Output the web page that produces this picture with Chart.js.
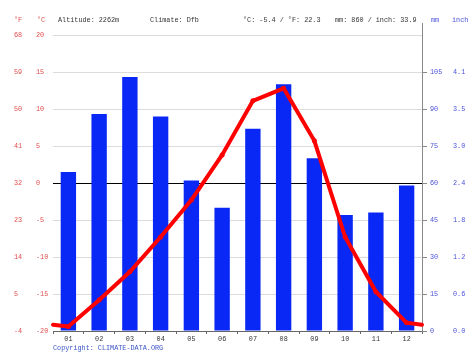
<!DOCTYPE html>
<html>
<head>
<meta charset="utf-8">
<style>
html,body{margin:0;padding:0;background:#fff;}
#wrap{width:474px;height:355px;position:relative;}
</style>
<script src="https://cdn.jsdelivr.net/npm/chart.js@4.4.0/dist/chart.umd.min.js"></script>
</head>
<body>
<div id="wrap"><canvas id="c" width="474" height="355"></canvas></div>
<script>
const months = ["01","02","03","04","05","06","07","08","09","10","11","12"];
const tempC = [-19.4,-15.8,-12.0,-7.3,-2.3,3.8,11.1,12.8,5.7,-7.3,-14.7,-18.9];
const precipMm = [64.5,88,103,87,61,50,82,100,70,47,48,59];
const cTickLabels = ["-20","-15","-10","-5","0","5","10","15","20"];
const fTickLabels = ["-4","5","14","23","32","41","50","59","68"];
const mmTickLabels = ["0","15","30","45","60","75","90","105"];
const inchTickLabels = ["0.0","0.6","1.2","1.8","2.4","3.0","3.5","4.1"];
const headerItems = [
  {t:"°F", x:14, c:"#e04a4a"},
  {t:"°C", x:37, c:"#e04a4a"},
  {t:"Altitude: 2262m", x:58, c:"#333"},
  {t:"Climate: Dfb", x:150, c:"#333"},
  {t:"°C: -5.4 / °F: 22.3", x:243, c:"#333"},
  {t:"mm: 860 / inch: 33.9", x:335, c:"#333"},
  {t:"mm", x:431, c:"#4a50d8"},
  {t:"inch", x:452, c:"#4a50d8"}
];
const FONT = "Liberation Mono";
const red = "#e04a4a", blue = "#4a50d8";

const extras = {
  id: "extras",
  afterDatasetsDraw(chart) {
    const ctx = chart.ctx, a = chart.chartArea;
    const ys = chart.scales.yC;
    const meta = chart.getDatasetMeta(1);
    const p0 = meta.data[0], pN = meta.data[meta.data.length-1];
    const edge = (tempC[0] + tempC[tempC.length-1]) / 2;
    const ye = ys.getPixelForValue(edge);
    ctx.save();
    ctx.strokeStyle = "#ff0000"; ctx.lineWidth = 4; ctx.lineCap = "round"; ctx.lineJoin="round";
    ctx.beginPath(); ctx.moveTo(a.left, ye); ctx.lineTo(p0.x, p0.y); ctx.stroke();
    ctx.beginPath(); ctx.moveTo(pN.x, pN.y); ctx.lineTo(a.right, ye); ctx.stroke();
    ctx.restore();
  },
  afterDraw(chart) {
    const ctx = chart.ctx, a = chart.chartArea;
    ctx.save();
    ctx.strokeStyle = "#888"; ctx.lineWidth = 1;
    ctx.beginPath(); ctx.moveTo(Math.round(a.right)+0.5, a.top-12); ctx.lineTo(Math.round(a.right)+0.5, a.top); ctx.stroke();
    ctx.font = "6.8px '" + FONT + "'";
    ctx.textBaseline = "middle"; ctx.textAlign = "left";
    headerItems.forEach(h => { ctx.fillStyle = h.c; ctx.fillText(h.t, h.x, 20); });
    ctx.fillStyle = "#3a55c8";
    ctx.fillText("Copyright: CLIMATE-DATA.ORG", 53, 348);
    ctx.restore();
  }
};

new Chart(document.getElementById("c"), {
  data: {
    labels: months,
    datasets: [
      {type:"bar", data: precipMm, yAxisID:"mm", backgroundColor:"#0a28f5", barPercentage:0.5, categoryPercentage:1.0, order:2},
      {type:"line", data: tempC, yAxisID:"yC", borderColor:"#ff0000", backgroundColor:"#ff0000", borderWidth:4, pointRadius:2.5, pointBorderWidth:0, tension:0, order:1}
    ]
  },
  options: {
    responsive:false, animation:false, devicePixelRatio:1,
    layout:{padding:{left:14, right:0, top:35, bottom:10}},
    plugins:{legend:{display:false}, tooltip:{enabled:false}, title:{display:false}},
    scales: {
      x: {
        type:"category", position:"bottom", offset:true,
        grid:{offset:true, drawOnChartArea:false, drawTicks:true, tickLength:3, color:"#666"},
        border:{display:true, color:"#666"},
        ticks:{font:{family:FONT, size:6.8}, color:"#333", padding:1, maxRotation:0, autoSkip:false},
        afterFit(s){ s.height = 14; }
      },
      yF: {
        type:"linear", position:"left", weight:2, min:-20, max:20,
        ticks:{stepSize:5, crossAlign:"far", padding:0, color:red, font:{family:FONT, size:6.8},
          callback:(v,i)=>fTickLabels[i]},
        grid:{display:false, drawTicks:false}, border:{display:false},
        afterFit(s){ s.width = 22; }
      },
      yC: {
        type:"linear", position:"left", weight:1, min:-20, max:20,
        ticks:{stepSize:5, crossAlign:"far", padding:0, color:red, font:{family:FONT, size:6.8},
          callback:(v,i)=>cTickLabels[i]},
        grid:{drawTicks:false, color:(c)=> c.tick && c.tick.value===0 ? "#000" : "#dcdcdc", lineWidth:1},
        border:{display:false},
        afterFit(s){ s.width = 17; }
      },
      mm: {
        type:"linear", position:"right", weight:1, min:0, max:120,
        ticks:{stepSize:15, padding:3, color:blue, font:{family:FONT, size:6.8},
          callback:(v,i)=> i < mmTickLabels.length ? mmTickLabels[i] : ""},
        grid:{drawOnChartArea:false, drawTicks:true, tickLength:5,
          color:(c)=> c.tick && c.tick.value >= 120 ? "rgba(0,0,0,0)" : "#888"},
        border:{display:true, color:"#888"},
        afterFit(s){ s.width = 30; }
      },
      inch: {
        type:"linear", position:"right", weight:2, min:0, max:120,
        ticks:{stepSize:15, padding:1, color:blue, font:{family:FONT, size:6.8},
          callback:(v,i)=> i < inchTickLabels.length ? inchTickLabels[i] : ""},
        grid:{display:false, drawTicks:false}, border:{display:false},
        afterFit(s){ s.width = 22; }
      }
    }
  },
  plugins:[extras]
});
</script>
</body>
</html>
